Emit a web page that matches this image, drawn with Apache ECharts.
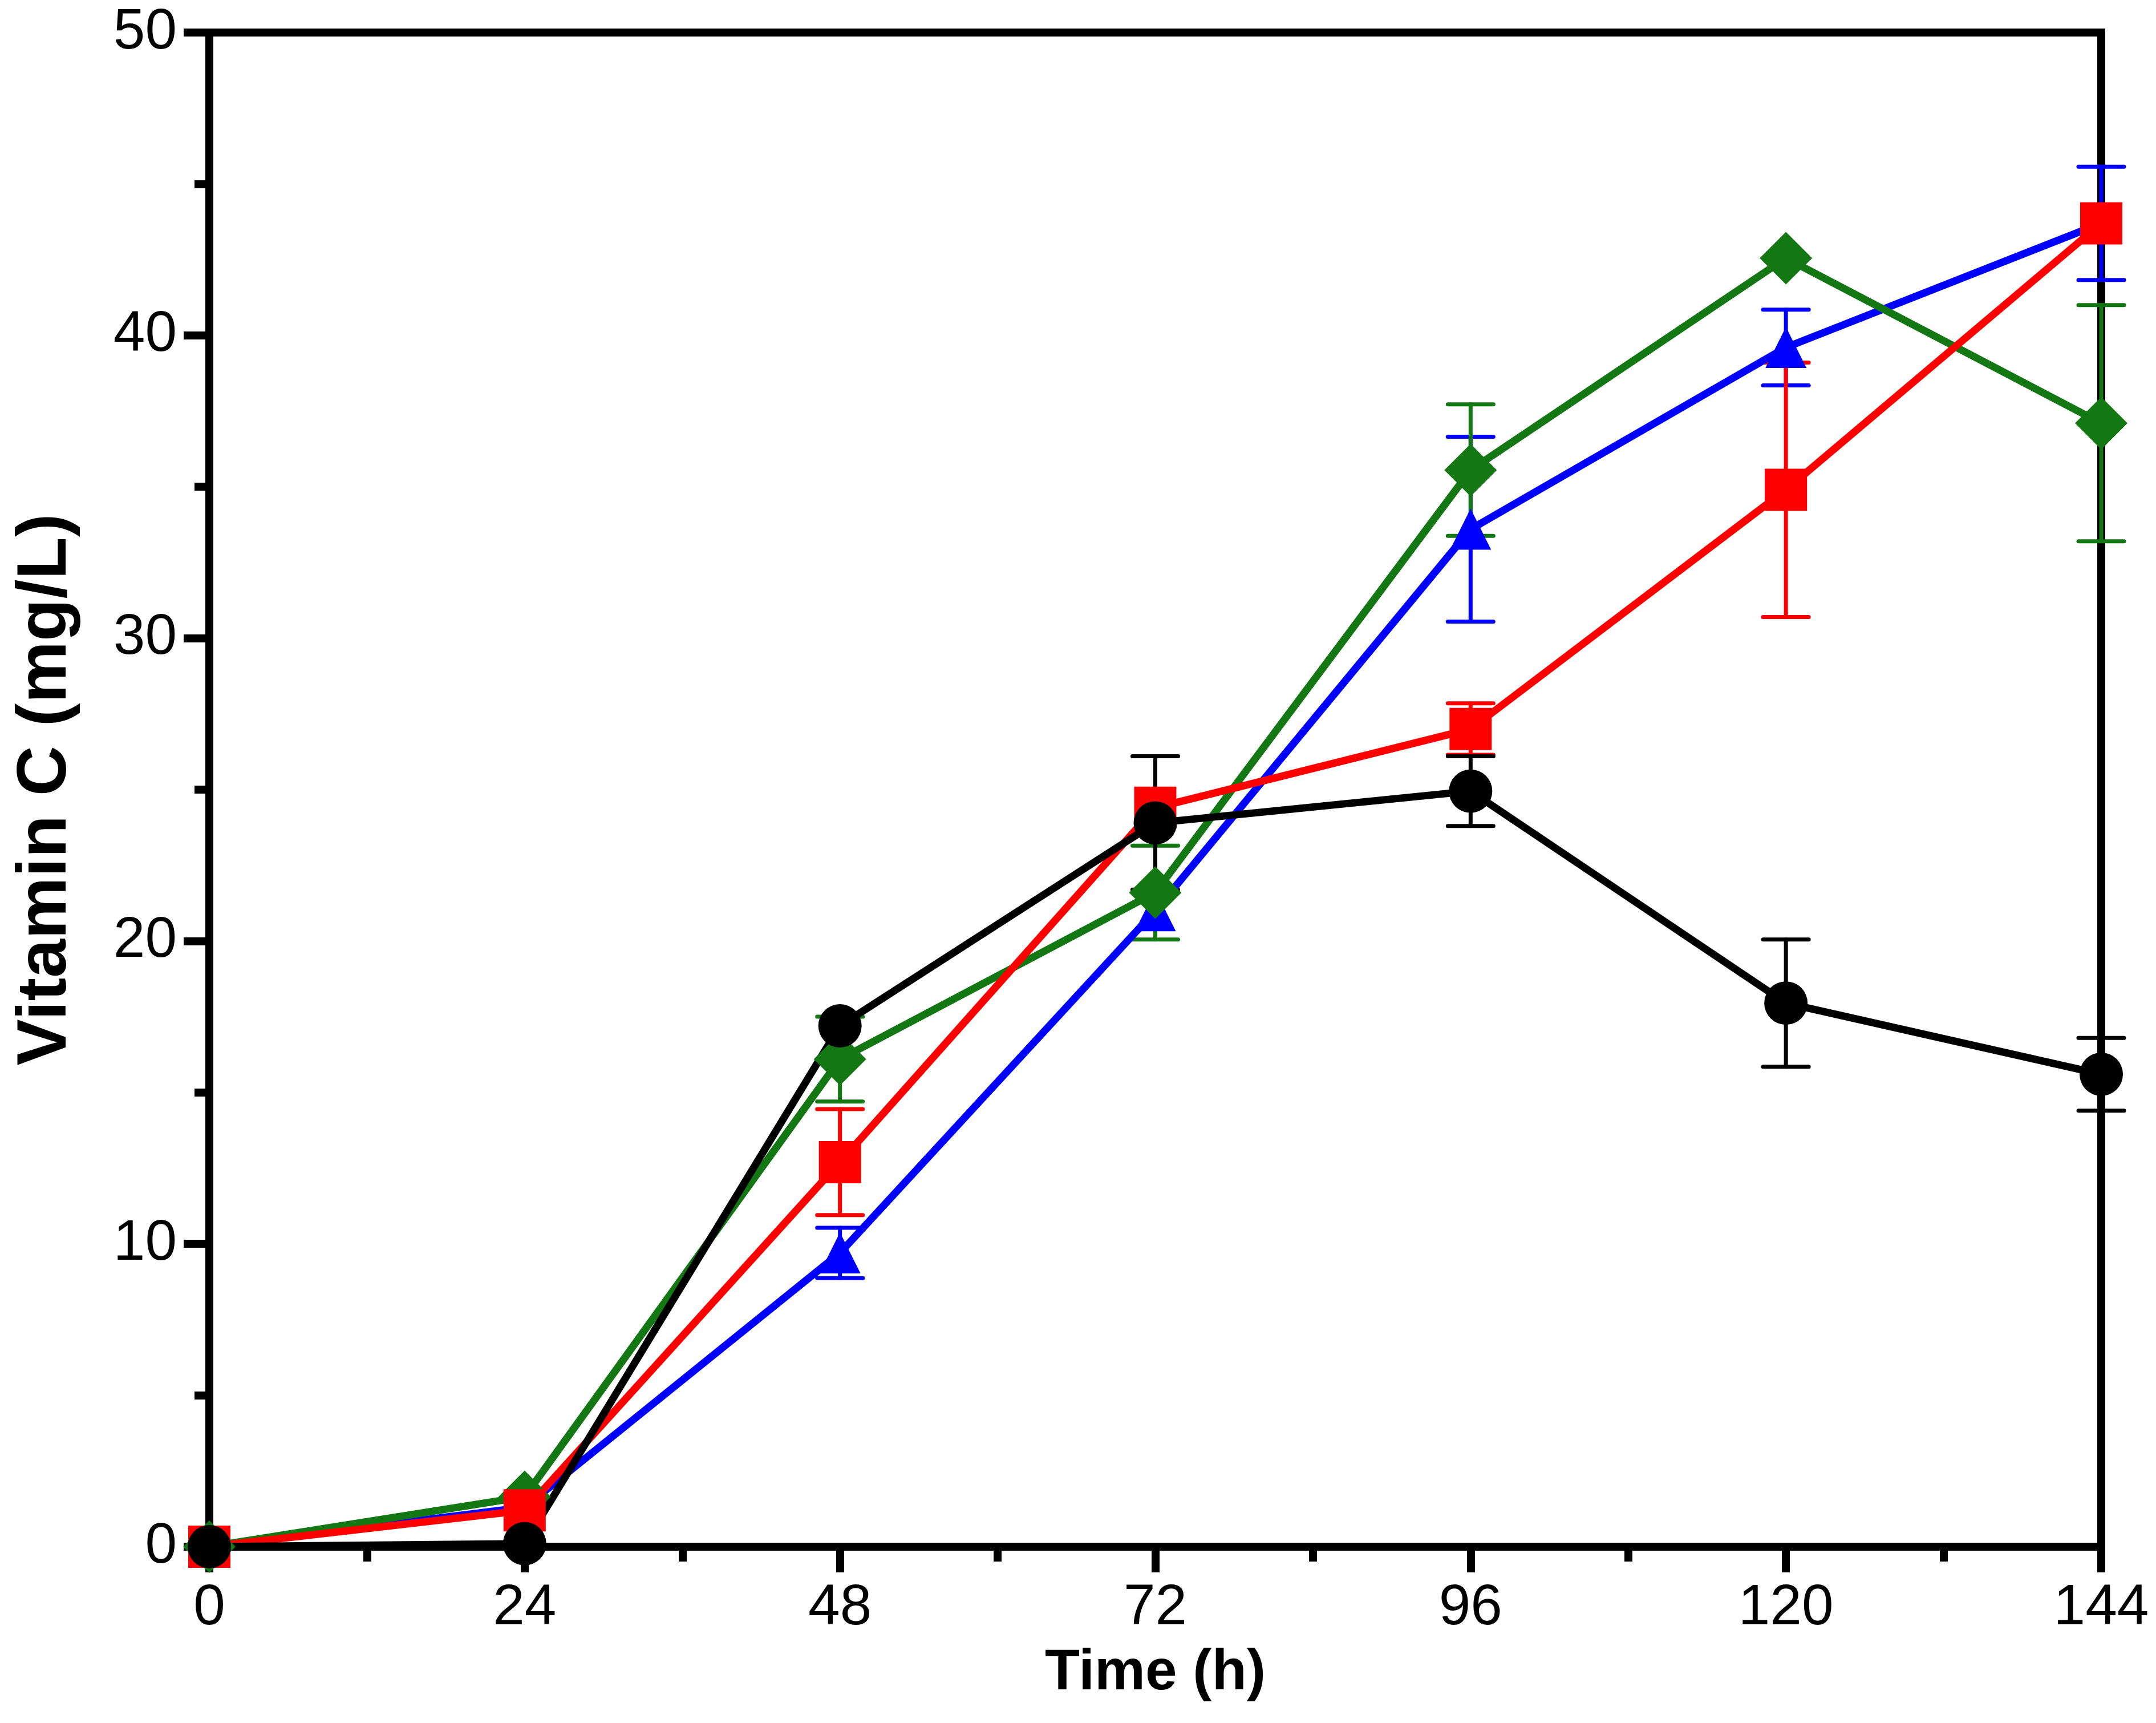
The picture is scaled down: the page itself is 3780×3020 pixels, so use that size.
<!DOCTYPE html>
<html>
<head>
<meta charset="utf-8">
<script src="https://cdn.jsdelivr.net/npm/echarts@6/dist/echarts.min.js"></script>
<style>
html,body{margin:0;padding:0;background:#fff;}
#chart{width:3780px;height:3020px;}
</style>
</head>
<body>
<div id="chart"></div>
<script>
// ---- data ----
const times = [0, 24, 48, 72, 96, 120, 144];
const xTicks = [0, 24, 48, 72, 96, 120, 144];
const yTicks = [0, 10, 20, 30, 40, 50];

const blackMean = [0, 0.1, 17.2, 23.9, 24.95, 17.95, 15.6];
const blackErr  = [0, 0, 0, 2.2, 1.15, 2.1, 1.2];

const redMean = [0, 1.2, 12.7, 24.4, 27.0, 34.9, 43.7];
const redErr  = [0, 0, 1.75, 0, 0.85, 4.2, 0];

const blueMean = [0, 1.3, 9.7, 21.0, 33.6, 39.6, 43.7];
const blueErr  = [0, 0, 0.83, 0, 3.05, 1.25, 1.87];

const greenMean = [0, 1.65, 16.1, 21.6, 35.55, 42.55, 37.1];
const greenErr  = [0, 0, 1.4, 1.55, 2.17, 0, 3.9];

const xTitle = 'Time (h)';
const yTitle = 'Vitamin C (mg/L)';

// ---- helpers ----
const FONT = "'Liberation Sans', Arial, Helvetica, sans-serif";
const COLORS = {black: '#000000', red: '#FF0000', blue: '#0000FF', green: '#137813'};

function pairs(xs, ys) { return xs.map((x, i) => [x, ys[i]]); }
function triples(xs, ys, es) { return xs.map((x, i) => [x, ys[i], es[i]]); }

function errRender(color) {
  return function (params, api) {
    const x = api.value(0), y = api.value(1), e = api.value(2);
    if (!e) return null;
    const top = api.coord([x, y + e]);
    const bot = api.coord([x, y - e]);
    const hw = 40, lw = 7;
    const st = {stroke: color, lineWidth: lw, lineCap: 'round'};
    return {
      type: 'group',
      children: [
        {type: 'line', shape: {x1: top[0], y1: top[1], x2: bot[0], y2: bot[1]}, style: st},
        {type: 'line', shape: {x1: top[0] - hw, y1: top[1], x2: top[0] + hw, y2: top[1]}, style: st},
        {type: 'line', shape: {x1: bot[0] - hw, y1: bot[1], x2: bot[0] + hw, y2: bot[1]}, style: st}
      ]
    };
  };
}

function errSeries(name, color, means, errs) {
  return {
    name: name + ' err', type: 'custom', clip: false, silent: true,
    renderItem: errRender(color),
    encode: {x: 0, y: 1},
    data: triples(times, means, errs)
  };
}

function lineSeries(name, color, means, symbol, size) {
  return {
    name: name, type: 'line', clip: false, silent: true,
    data: pairs(times, means),
    symbol: symbol, symbolSize: size, showAllSymbol: true,
    lineStyle: {color: color, width: 13},
    itemStyle: {color: color, borderWidth: 0},
    emphasis: {disabled: true},
    animation: false
  };
}

const chart = echarts.init(document.getElementById('chart'), null, {renderer: 'canvas', devicePixelRatio: 1});

const axisCommon = {
  axisLine: {show: true, onZero: false, lineStyle: {color: '#000', width: 14}},
  axisTick: {show: true, length: 45, lineStyle: {color: '#000', width: 14}},
  minorTick: {show: true, splitNumber: 2, length: 26, lineStyle: {color: '#000', width: 14}},
  splitLine: {show: false},
  minorSplitLine: {show: false}
};

chart.setOption({
  animation: false,
  backgroundColor: '#fff',
  grid: {
    left: 367, right: 96, top: 57, bottom: 309,
    show: true, borderColor: '#000', borderWidth: 14, backgroundColor: 'transparent'
  },
  xAxis: Object.assign({
    type: 'value', min: xTicks[0], max: xTicks[xTicks.length - 1], interval: xTicks[1] - xTicks[0],
    name: xTitle, nameLocation: 'middle', nameGap: 172,
    nameTextStyle: {fontFamily: FONT, fontSize: 100, fontWeight: 'bold', color: '#000'},
    axisLabel: {fontFamily: FONT, fontSize: 100, color: '#000', margin: 58}
  }, axisCommon),
  yAxis: Object.assign({
    type: 'value', min: yTicks[0], max: yTicks[yTicks.length - 1], interval: yTicks[1] - yTicks[0],
    name: yTitle, nameLocation: 'middle', nameGap: 225,
    nameTextStyle: {fontFamily: FONT, fontSize: 122, fontWeight: 'bold', color: '#000'},
    axisLabel: {fontFamily: FONT, fontSize: 100, color: '#000', margin: 57}
  }, axisCommon),
  series: [
    errSeries('Blue', COLORS.blue, blueMean, blueErr),
    lineSeries('Blue', COLORS.blue, blueMean, 'triangle', 72),
    errSeries('Green', COLORS.green, greenMean, greenErr),
    lineSeries('Green', COLORS.green, greenMean, 'diamond', 92),
    errSeries('Red', COLORS.red, redMean, redErr),
    lineSeries('Red', COLORS.red, redMean, 'rect', 74),
    errSeries('Black', COLORS.black, blackMean, blackErr),
    lineSeries('Black', COLORS.black, blackMean, 'circle', 76)
  ]
});
</script>
</body>
</html>
